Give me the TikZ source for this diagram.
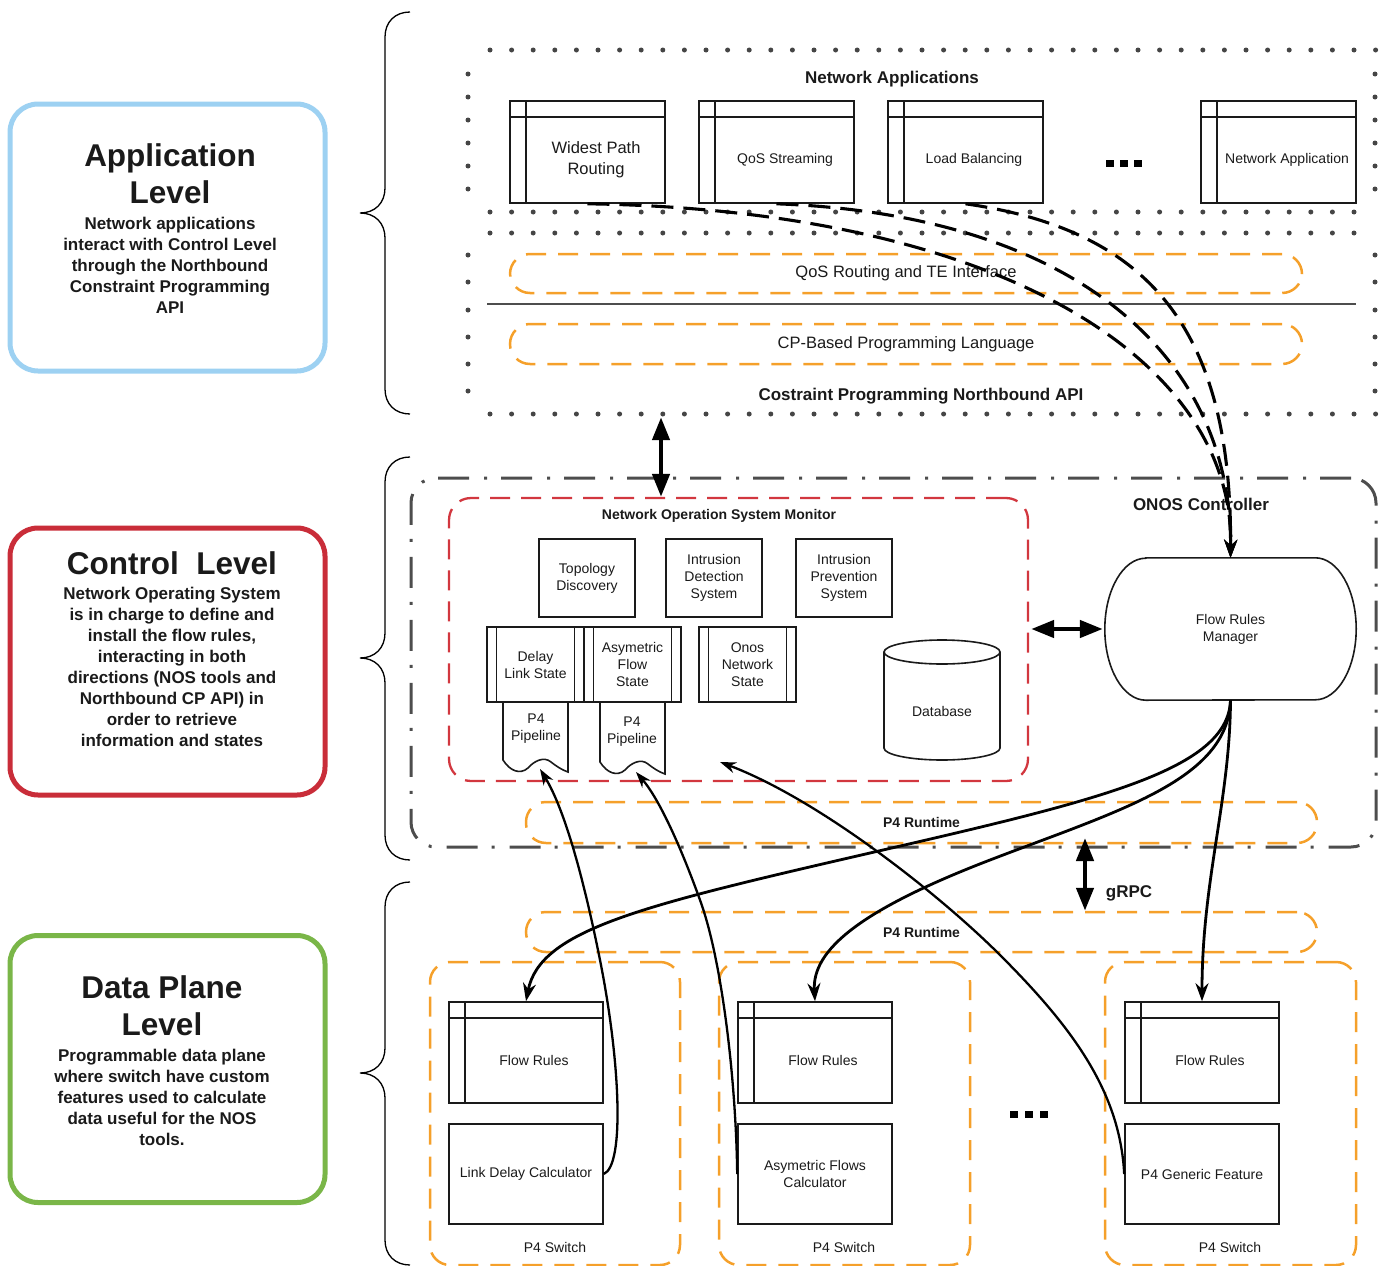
\documentclass[tikz,border=0pt]{standalone}
\usepackage{fontspec}
\setmainfont{Liberation Sans}
\usetikzlibrary{arrows.meta,calc}
\definecolor{appblue}{HTML}{9DD1F2}
\definecolor{ctlred}{HTML}{C92D39}
\definecolor{dpgreen}{HTML}{7AB648}
\definecolor{orng}{HTML}{F5A02A}
\definecolor{nosred}{HTML}{D2373F}
\definecolor{gry}{HTML}{4D4D4D}
\definecolor{dotc}{HTML}{454545}
\definecolor{txt}{HTML}{1A1A1A}
\newcommand{\fsa}{\fontsize{14}{17}\selectfont}
\newcommand{\fsab}{\fontsize{14}{17}\selectfont\bfseries}
\newcommand{\fsb}{\fontsize{16.5}{21}\selectfont}
\newcommand{\fsc}{\fontsize{17}{21}\selectfont\bfseries}
\newcommand{\fsd}{\fontsize{31.5}{37}\selectfont\bfseries}
\newcommand{\sidebrace}[3]{\draw[bracestyle] (410,#1) .. controls (395,#1) and (385,#1+10) .. (385,#1+25) -- (385,#2-25) .. controls (385,#2-10) and (375,#2) .. (360,#2) .. controls (375,#2) and (385,#2+10) .. (385,#2+25) -- (385,#3-25) .. controls (385,#3-10) and (395,#3) .. (410,#3);}
\begin{document}
\begin{tikzpicture}[x=1pt,y=-1pt,
  levelbox/.style={draw=#1, line width=5pt, rounded corners=28pt, minimum width=315pt, minimum height=267pt, inner sep=0pt},
  bracestyle/.style={draw=black, line width=1.3pt},
  plainbox/.style={draw=txt, line width=1.6pt, inner sep=0pt, align=center, font=\fsa, text=txt},
  istore/.style={plainbox, minimum width=155pt, minimum height=102pt,
    path picture={\draw[line width=1.6pt] ([yshift=-16pt]path picture bounding box.north west) -- ([yshift=-16pt]path picture bounding box.north east);
      \draw[line width=1.6pt] ([xshift=16pt]path picture bounding box.north west) -- ([xshift=16pt]path picture bounding box.south west);}},
  procbox/.style={plainbox, minimum width=97pt, minimum height=75pt,
    path picture={\draw[line width=1.6pt] ([xshift=9.5pt]path picture bounding box.north west) -- ([xshift=9.5pt]path picture bounding box.south west);
      \draw[line width=1.6pt] ([xshift=-9.5pt]path picture bounding box.north east) -- ([xshift=-9.5pt]path picture bounding box.south east);}},
  orngbox/.style={draw=orng, line width=2.5pt, dash pattern=on 20pt off 12pt, rounded corners=20pt, inner sep=0pt},
  nosbox/.style={draw=nosred, line width=2.3pt, dash pattern=on 20pt off 11pt, rounded corners=22pt, inner sep=0pt},
  onosbox/.style={draw=gry, line width=3pt, dash pattern=on 31pt off 14pt on 3pt off 15pt, rounded corners=25pt, inner sep=0pt},
  lbl/.style={inner sep=0pt, align=center, text=txt},
  dasharrow/.style={draw=black, line width=3.1pt, dash pattern=on 22pt off 10pt, -{Stealth[length=18pt,width=13pt]}},
  flowarrow/.style={draw=black, line width=2.8pt, -{Stealth[length=18pt,width=13pt]}},
  calcarrow/.style={draw=black, line width=2.3pt, -{Stealth[length=16pt,width=11pt]}},
  bigdbl/.style={draw=black, line width=4.5pt, {Triangle[length=23pt,width=17pt]}-{Triangle[length=23pt,width=17pt]}}
]
\useasboundingbox (0,0) rectangle (1385,1266);

% ---------- left level boxes ----------
\node[levelbox=appblue] (app) at (167.5,237.5) {};
\node[lbl, font=\fsd] (appT) at (170,174) {Application\\Level};
\node[lbl, font=\fsc] (appB) at (170,265) {Network applications\\interact with Control Level\\through the Northbound\\Constraint Programming\\API};

\node[levelbox=ctlred] (ctl) at (167.5,661.5) {};
\node[lbl, font=\fsd] (ctlT) at (172,563) {Control\ \ Level};
\node[lbl, font=\fsc] (ctlB) at (172,667) {Network Operating System\\is in charge to define and\\install the flow rules,\\interacting in both\\directions (NOS tools and\\Northbound CP API) in\\order to retrieve\\information and states};

\node[levelbox=dpgreen] (dp) at (167.5,1069) {};
\node[lbl, font=\fsd] (dpT) at (162,1006) {Data Plane\\Level};
\node[lbl, font=\fsc] (dpB) at (162,1097) {Programmable data plane\\where switch have custom\\features used to calculate\\data useful for the NOS\\tools.};

% ---------- braces ----------
\sidebrace{12}{213}{414}
\sidebrace{457}{658}{860}
\sidebrace{882}{1073}{1265}

% ---------- dotted areas ----------
\node[inner sep=0pt, minimum width=907pt, minimum height=162pt] (appsarea) at (921.5,131) {};
\node[inner sep=0pt, minimum width=907pt, minimum height=181pt] (apiarea) at (921.5,323.5) {};
\foreach \i in {0,...,41} {
  \fill[dotc] ({490+21.6*\i},50) circle (2.5pt);
  \fill[dotc] ({490+21.6*\i},414) circle (2.5pt);
}
\foreach \i in {0,...,40} {
  \fill[dotc] ({490+21.6*\i},212) circle (2.5pt);
  \fill[dotc] ({490+21.6*\i},233) circle (2.5pt);
}
\foreach \y in {74,97,120,143,166,189,255,282,310,337,364,391} {
  \fill[dotc] (468,\y) circle (2.5pt);
  \fill[dotc] (1375,\y) circle (2.5pt);
}

% ---------- network applications ----------
\node[lbl, font=\fsc] (natitle) at (892,79) {Network Applications};
\node[istore, label={[lbl, font=\fsb, xshift=8.5pt, yshift=-8pt]center:Widest Path\\Routing}] (wpr) at (587.5,152) {};
\node[istore, label={[lbl, font=\fsa, xshift=8.5pt, yshift=-8pt]center:QoS Streaming}] (qos) at (776.5,152) {};
\node[istore, label={[lbl, font=\fsa, xshift=8.5pt, yshift=-8pt]center:Load Balancing}] (lb) at (965.5,152) {};
\node[istore, label={[lbl, font=\fsa, xshift=8.5pt, yshift=-8pt]center:Network Application}] (na) at (1278.5,152) {};
\fill[black] (1106,160) rectangle (1114,167);
\fill[black] (1120,160) rectangle (1128,167);
\fill[black] (1134,160) rectangle (1142,167);

% ---------- CP northbound API ----------
\node[orngbox, minimum width=792pt, minimum height=39pt, font=\fsb, text=txt] (qosr) at (906,273.5) {QoS Routing and TE Interface};
\draw[gry, line width=1.8pt] (487,304) -- (1356,304);
\node[orngbox, minimum width=792pt, minimum height=40pt, font=\fsb, text=txt] (cpl) at (906,344) {CP-Based Programming Language};
\node[lbl, font=\fsc] (apititle) at (921,396) {Costraint Programming Northbound API};

% ---------- ONOS controller ----------
\node[onosbox, minimum width=965pt, minimum height=369pt] (onos) at (893.5,662.5) {};
\node[lbl, font=\fsc] (onostitle) at (1201,504) {ONOS Controller};
\node[nosbox, minimum width=579pt, minimum height=283pt] (nosm) at (738.5,639.5) {};
\node[lbl, font=\fsab] (nostitle) at (719,516) {Network Operation System Monitor};

\node[plainbox, minimum width=96pt, minimum height=78pt] (topo) at (587,578) {Topology\\Discovery};
\node[plainbox, minimum width=96pt, minimum height=78pt] (ids) at (714,578) {Intrusion\\Detection\\System};
\node[plainbox, minimum width=96pt, minimum height=78pt] (ips) at (844,578) {Intrusion\\Prevention\\System};

% P4 pipeline document shapes
\draw[draw=txt, line width=1.6pt, fill=white] (503,702) -- (503,760) .. controls (510,771) and (520,775) .. (528,768) .. controls (534,761) and (544,756) .. (551,762) .. controls (556,766) and (562,770) .. (568,772) -- (568,702);
\draw[draw=txt, line width=1.6pt, fill=white] (600,702) -- (600,762) .. controls (607,773) and (617,777) .. (625,770) .. controls (631,763) and (641,758) .. (648,764) .. controls (653,768) and (659,772) .. (665,774) -- (665,702);
\node[lbl, font=\fsa] (pp1) at (536,729) {P4\\Pipeline};
\node[lbl, font=\fsa] (pp2) at (632,732) {P4\\Pipeline};
\coordinate (pp1tip) at (540,769);
\coordinate (pp2tip) at (636,772);

\node[procbox] (dls) at (535.5,664.5) {Delay\\Link State};
\node[procbox] (afs) at (632.5,664.5) {Asymetric\\Flow\\State};
\node[procbox] (ons) at (747.5,664.5) {Onos\\Network\\State};

% database cylinder
\draw[draw=txt, line width=1.6pt] (884,652) -- (884,748) arc[start angle=180, end angle=360, x radius=58pt, y radius=12pt] -- (1000,652);
\draw[draw=txt, line width=1.6pt] (942,652) ellipse [x radius=58pt, y radius=12pt];
\node[lbl, font=\fsa] (db) at (942,711) {Database};
\coordinate (nostip) at (720,762);

% flow rules manager
\node[lbl, font=\fsa, minimum width=251pt, minimum height=142pt] (frm) at (1230.5,629) {Flow Rules\\Manager};
\draw[draw=txt, line width=1.6pt] ($(frm.north west)+(41,0)$) -- ($(frm.north east)+(-41,0)$) arc[start angle=90, end angle=-90, x radius=41pt, y radius=71pt] -- ($(frm.south west)+(41,0)$) arc[start angle=270, end angle=90, x radius=41pt, y radius=71pt] -- cycle;

% P4 runtime
\node[orngbox, minimum width=791pt, minimum height=41pt, font=\fsab, text=txt] (p4rt1) at (921.5,822.5) {P4 Runtime};
\node[orngbox, minimum width=791pt, minimum height=40pt, font=\fsab, text=txt] (p4rt2) at (921.5,932) {P4 Runtime};
\node[lbl, font=\fsc] (grpc) at (1129,893) {gRPC};
\coordinate (gtop) at (1085,838);
\coordinate (ax) at (661,0);

% ---------- data plane ----------
\node[orngbox, minimum width=250pt, minimum height=303pt] (sw1) at (555,1113.5) {};
\node[orngbox, minimum width=251pt, minimum height=303pt] (sw2) at (844.5,1113.5) {};
\node[orngbox, minimum width=251pt, minimum height=303pt] (sw3) at (1230.5,1113.5) {};
\node[lbl, font=\fsa] (sw1l) at (555,1247) {P4 Switch};
\node[lbl, font=\fsa] (sw2l) at (844,1247) {P4 Switch};
\node[lbl, font=\fsa] (sw3l) at (1230,1247) {P4 Switch};

\node[istore, minimum width=154pt, minimum height=101pt, label={[lbl, font=\fsa, xshift=8pt, yshift=-8pt]center:Flow Rules}] (fr1) at (526,1052.5) {};
\node[istore, minimum width=154pt, minimum height=101pt, label={[lbl, font=\fsa, xshift=8pt, yshift=-8pt]center:Flow Rules}] (fr2) at (815,1052.5) {};
\node[istore, minimum width=154pt, minimum height=101pt, label={[lbl, font=\fsa, xshift=8pt, yshift=-8pt]center:Flow Rules}] (fr3) at (1202,1052.5) {};

\node[plainbox, minimum width=154pt, minimum height=100pt] (ldc) at (526,1174) {Link Delay Calculator};
\node[plainbox, minimum width=154pt, minimum height=100pt] (afc) at (815,1174) {Asymetric Flows\\Calculator};
\node[plainbox, minimum width=154pt, minimum height=100pt] (gf) at (1202,1174) {P4 Generic Feature};

\fill[black] (1010,1111) rectangle (1018,1118);
\fill[black] (1025,1111) rectangle (1033,1118);
\fill[black] (1040,1111) rectangle (1048,1118);

% ---------- connectors ----------
\draw[dasharrow] (wpr.south) .. controls (1000,210) and (1235,360) .. (frm.north);
\draw[dasharrow] (qos.south) .. controls (1080,215) and (1232,360) .. (frm.north);
\draw[dasharrow] (lb.south) .. controls (1150,230) and (1232,330) .. (frm.north);

\draw[bigdbl] (apiarea.south -| ax) ++(0,3) -- (nosm.north -| ax);
\draw[bigdbl] (nosm.east |- frm.west) ++(2,0) -- ([xshift=-2pt]frm.west);
\draw[bigdbl] (gtop) -- (p4rt2.north -| gtop);

\draw[flowarrow] (frm.south) .. controls (1228,770) and (1100,800) .. (870,853) .. controls (640,906) and (540,930) .. (fr1.north);
\draw[flowarrow] (frm.south) .. controls (1228,780) and (1120,810) .. (990,860) .. controls (860,910) and (812,950) .. (fr2.north);
\draw[flowarrow] (frm.south) .. controls (1230,800) and (1202,880) .. (fr3.north);

\draw[calcarrow] (ldc.east) .. controls (625,1165) and (620,1060) .. (600,960) .. controls (584,880) and (565,810) .. (pp1tip);
\draw[calcarrow] (afc.west) .. controls (736,1080) and (722,960) .. (700,900) .. controls (682,850) and (660,800) .. (pp2tip);
\draw[calcarrow] (gf.west) .. controls (1120,1090) and (1070,1025) .. (1000,955) .. controls (940,895) and (820,800) .. (nostip);
\end{tikzpicture}
\end{document}
